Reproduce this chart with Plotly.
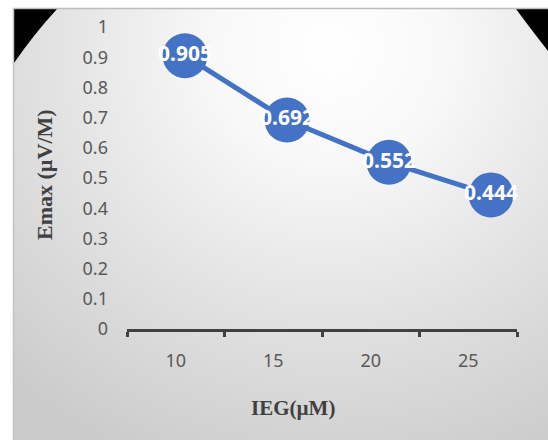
import base64
import plotly.graph_objects as go

# ---- data ----
categories = ["10", "15", "20", "25"]
emax_values = [0.905, 0.692, 0.552, 0.444]
label_texts = ["0.905", "0.692", "0.552", "0.444"]
y_tick_vals = [0, 0.1, 0.2, 0.3, 0.4, 0.5, 0.6, 0.7, 0.8, 0.9, 1]
y_tick_text = ["0", "0.1", "0.2", "0.3", "0.4", "0.5", "0.6", "0.7", "0.8", "0.9", "1"]

W, H = 548, 440
PL, PR, PT, PB = 127, 542, 27, 329  # plot area in pixels
PW, PH = PR - PL, PB - PT


def px(x):
    return (x - PL) / PW


def py(y):
    return (PB - y) / PH


# background: radial gradient panel with frame and dark top corners
svg = f"""<svg xmlns='http://www.w3.org/2000/svg' width='{W}' height='{H}' viewBox='0 0 {W} {H}' preserveAspectRatio='none'>
<defs>
<radialGradient id='g' gradientUnits='userSpaceOnUse' cx='330' cy='50' r='470' gradientTransform='translate(330 50) scale(1 0.95) translate(-330 -50)'>
<stop offset='0' stop-color='#ffffff'/>
<stop offset='0.25' stop-color='#f8f8f8'/>
<stop offset='0.6' stop-color='#e2e2e2'/>
<stop offset='1' stop-color='#cbcbcb'/>
</radialGradient>
</defs>
<rect x='0' y='0' width='{W}' height='{H}' fill='#ffffff'/>
<rect x='13' y='8' width='{W}' height='{H}' fill='url(#g)'/>
<path d='M14 9 L57 9 Q34 34 14 63 Z' fill='#000000'/>
<path d='M516 9 L548 9 L548 51 Q530 28 516 9 Z' fill='#000000'/>
<line x1='13' y1='8.5' x2='{W}' y2='8.5' stroke='#bdbdbd' stroke-width='1.5'/>
<line x1='13.5' y1='8' x2='13.5' y2='{H}' stroke='#c4c4c4' stroke-width='1.5'/>
</svg>"""
src = "data:image/svg+xml;base64," + base64.b64encode(svg.encode()).decode()

fig = go.Figure()
# invisible trace that carries the category axis with the tick labels
fig.add_trace(go.Scatter(
    x=categories, y=emax_values, xaxis="x", yaxis="y",
    mode="markers", marker=dict(size=1, opacity=0),
    showlegend=False, hoverinfo="skip",
))
fig.add_trace(go.Scatter(
    x=categories, y=emax_values, xaxis="x2", yaxis="y",
    mode="lines+markers+text",
    line=dict(color="#4472C4", width=5),
    marker=dict(size=45, color="#4472C4"),
    text=label_texts, textposition="middle center",
    textfont=dict(family="Noto Sans", size=21, color="#ffffff", weight="bold"),
    cliponaxis=False, showlegend=False, hoverinfo="x+y",
))

fig.update_layout(
    width=W, height=H,
    margin=dict(l=PL, r=W - PR, t=PT, b=H - PB, pad=0),
    paper_bgcolor="#ffffff", plot_bgcolor="rgba(0,0,0,0)",
    images=[dict(source=src, xref="paper", yref="paper", x=px(0), y=py(0),
                 sizex=W / PW, sizey=H / PH, xanchor="left", yanchor="top",
                 sizing="stretch", layer="below")],
    xaxis=dict(type="category", domain=[0, px(517)], range=[-0.5, 3.5],
               categoryorder="array", categoryarray=categories,
               tickson="boundaries", ticks="outside", ticklen=5, tickwidth=3,
               tickcolor="#404040", showline=True, linewidth=3, linecolor="#404040",
               showgrid=False, zeroline=False, anchor="y",
               tickfont=dict(family="Noto Sans", size=18, color="#595959"),
               ticklabelstandoff=13),
    xaxis2=dict(type="category", domain=[px(134), 1], range=[-0.5, 3.5],
                categoryorder="array", categoryarray=categories,
                visible=False, anchor="y", showgrid=False),
    yaxis=dict(range=[0, 1], tickvals=y_tick_vals, ticktext=y_tick_text,
               showgrid=False, zeroline=False, showline=False, ticks="",
               tickfont=dict(family="Noto Sans", size=18, color="#595959"),
               ticklabelstandoff=18),
    annotations=[
        dict(text="Emax (µV/M)", x=px(45), y=py(175), xref="paper", yref="paper",
             textangle=-90, showarrow=False, xanchor="center", yanchor="middle",
             font=dict(family="Liberation Serif", size=22, color="#404040", weight="bold")),
        dict(text="IEG(µM)", x=px(293), y=py(408), xref="paper", yref="paper",
             showarrow=False, xanchor="center", yanchor="middle",
             font=dict(family="Liberation Serif", size=21, color="#404040", weight="bold")),
    ],
)

fig.write_html("out.html", post_script="document.body.style.margin='0';",
               config={"displayModeBar": False})
